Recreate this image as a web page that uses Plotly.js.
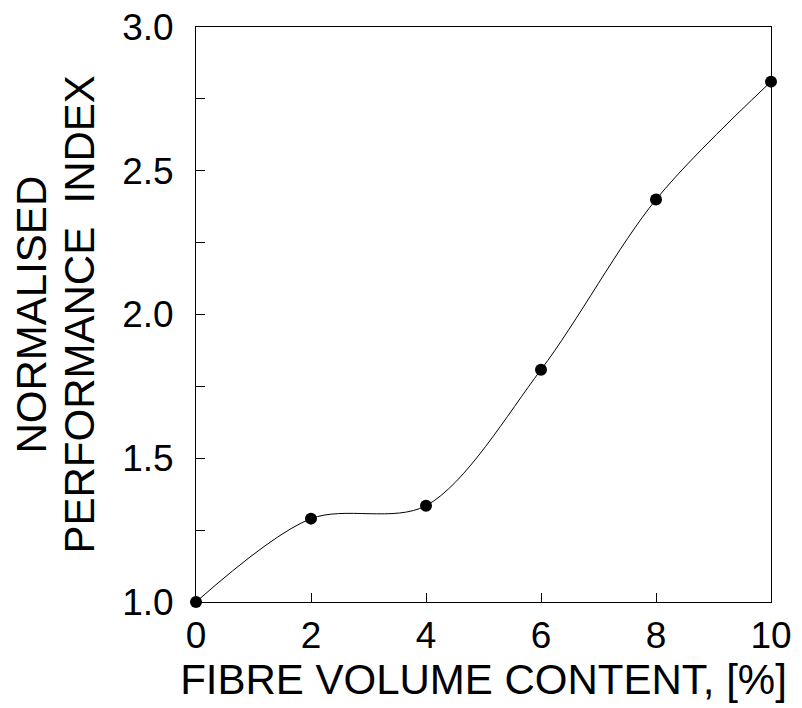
<!DOCTYPE html>
<html>
<head>
<meta charset="utf-8">
<script src="https://cdn.plot.ly/plotly-3.0.1.min.js"></script>
<style>html,body{margin:0;padding:0;background:#fff;}#chart{width:802px;height:708px;}</style>
</head>
<body>
<div id="chart"></div>
<script>
const fibreContent = [0, 2, 4, 6, 8, 10];
const performanceIndex = [1.0, 1.29, 1.335, 1.808, 2.40, 2.81];
const xTickValues = [0, 2, 4, 6, 8, 10];
const yTickValues = [1.0, 1.5, 2.0, 2.5, 3.0];
const yTickLabels = ['1.0', '1.5', '2.0', '2.5', '3.0'];
const xTitle = 'FIBRE VOLUME CONTENT, [%]';
const yTitleLine1 = 'NORMALISED';
const yTitleLine2 = 'PERFORMANCE\u00a0 INDEX';

const FONT = 'Liberation Sans, Arial, sans-serif';

const traces = [
  {
    x: fibreContent, y: performanceIndex,
    type: 'scatter', mode: 'lines',
    line: {shape: 'spline', smoothing: 0.9, color: '#000', width: 1},
    cliponaxis: false, hoverinfo: 'skip', showlegend: false
  },
  {
    x: fibreContent, y: performanceIndex,
    type: 'scatter', mode: 'markers',
    marker: {color: '#000', size: 12},
    cliponaxis: false, showlegend: false
  }
];

const layout = {
  width: 802, height: 708,
  margin: {l: 196, r: 31, t: 27, b: 106},
  paper_bgcolor: '#fff', plot_bgcolor: '#fff',
  font: {family: FONT, color: '#000'},
  xaxis: {
    range: [0, 10], tickvals: xTickValues,
    ticks: 'inside', ticklen: 9, tickwidth: 1, tickcolor: '#000',
    showline: true, linecolor: '#000', linewidth: 1, mirror: true,
    showgrid: false, zeroline: false,
    tickfont: {size: 37, family: FONT, color: '#000'},
    ticklabelstandoff: 1,
    title: {text: xTitle, font: {size: 42, family: FONT, color: '#000'}, standoff: 1}
  },
  yaxis: {
    range: [1, 3], tickvals: yTickValues, ticktext: yTickLabels,
    ticks: 'inside', ticklen: 9, tickwidth: 1, tickcolor: '#000',
    minor: {dtick: 0.25, ticks: 'inside', ticklen: 9, tickwidth: 1, tickcolor: '#000', showgrid: false},
    showline: true, linecolor: '#000', linewidth: 1, mirror: true,
    showgrid: false, zeroline: false,
    tickfont: {size: 37, family: FONT, color: '#000'},
    ticklabelstandoff: 14
  },
  annotations: [
    {text: yTitleLine1, textangle: -90, xref: 'paper', yref: 'paper',
     x: 0, y: 0.5, xanchor: 'center', yanchor: 'middle',
     xshift: -165, showarrow: false,
     font: {size: 42, family: FONT, color: '#000'}},
    {text: yTitleLine2, textangle: -90, xref: 'paper', yref: 'paper',
     x: 0, y: 0.5, xanchor: 'center', yanchor: 'middle',
     xshift: -117, showarrow: false,
     font: {size: 42, family: FONT, color: '#000'}}
  ]
};

Plotly.newPlot('chart', traces, layout, {displayModeBar: false, staticPlot: true});
</script>
</body>
</html>
